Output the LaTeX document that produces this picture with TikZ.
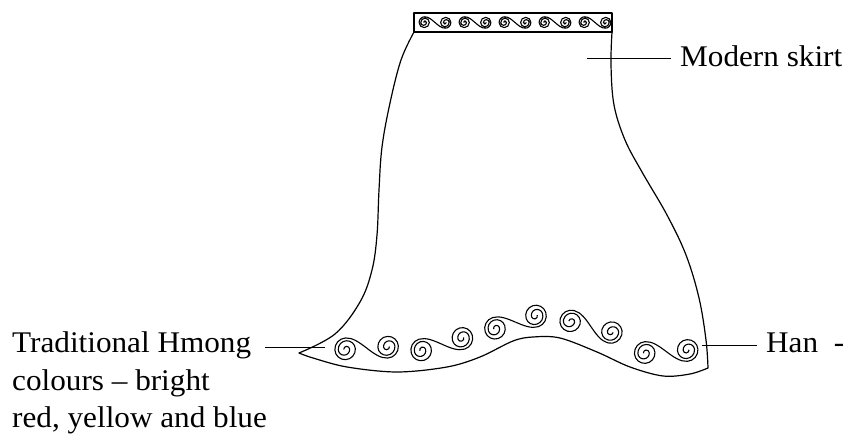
\documentclass[tikz,border=0pt]{standalone}
\usepackage{fontspec}
\setmainfont{Liberation Serif}[FakeStretch=1.04]

% one half of a wave scroll: coil wound outwards, then half of the S
\newcommand\halfwave{(-0.26,0) arc[start angle=180,end angle=0,radius=0.26]
  arc[start angle=0,end angle=-180,radius=0.5]
  arc[start angle=180,end angle=0,radius=0.75]
  arc[start angle=0,end angle=-180,radius=0.9]
  arc[start angle=180,end angle=90,radius=1]
  .. controls (0.6,1) and (1.175,0.5) .. (1.75,0)}

\begin{document}
\begin{tikzpicture}[
    x=1pt, y=1pt,
    outline/.style={line width=1.2pt, line join=round},
    scroll line/.style={line width=1.1pt},
    leader/.style={line width=1pt, shorten >=9pt},
    tag/.style={inner sep=0pt, anchor=base west, font=\fontsize{30}{37}\selectfont},
    wavepair/.pic={
      \draw[scroll line] \halfwave;
      \draw[scroll line, rotate around={180:(1.75,0)}] \halfwave;
    }
  ]
  \useasboundingbox (0,0) rectangle (849,-435);

  % Draw the skirt: left side, hem, right side.
  \draw[outline] plot[smooth, tension=0.6] coordinates {(414,-32) (401,-60) (390,-103)
      (382,-147) (379,-190) (377,-235) (372,-270) (360,-302) (335,-334) (299,-353)}
    -- plot[smooth, tension=0.55] coordinates {(299,-353) (313,-358) (347,-367) (397,-372)
      (447,-367) (480,-357) (513,-341) (533,-337) (560,-338) (597,-352) (630,-367)
      (663,-376) (690,-374) (708,-368)}
    -- plot[smooth, tension=0.6] coordinates {(708,-368) (706,-340) (699,-298)
      (686,-255) (667,-215) (642,-172) (625,-140) (614,-105) (611,-65) (612,-32)};

  % Draw the waistband with its border.
  \draw[outline] (414,-13) rectangle (612,-32);
  \foreach \x in {425,465,505,545,585}
    \pic[scale=5.7] at (\x,-22.5) {wavepair};

  % Draw the border along the hem.
  \foreach \x/\y/\a in {346.7/349.3/3.7, 422.7/350/17, 496.5/328.3/18,
                        571.7/321.7/-14.6, 646.3/353/4.3}
    \pic[scale=11.4, rotate=\a] at (\x,-\y) {wavepair};

  % Draw the labels.
  \node[tag] (modern) at (680,-67) {Modern skirt};
  \node[tag] (hmong1) at (12,-353) {Traditional Hmong};
  \node[tag] (hmong2) at (12,-391) {colours – bright};
  \node[tag] (hmong3) at (12,-428) {red, yellow and blue};
  \node[tag] (han) at (766,-353) {Han~~-};

  % Draw the leaders.
  \coordinate (skirt pt) at (587,-59);
  \coordinate (hem pt) at (325,-348);
  \coordinate (edge pt) at (702,-346);
  \draw[leader] (skirt pt) -- (skirt pt -| modern.west);
  \draw[leader, shorten >=14pt] (hem pt) -- (hem pt -| hmong1.east);
  \draw[leader] (edge pt) -- (edge pt -| han.west);
\end{tikzpicture}
\end{document}
